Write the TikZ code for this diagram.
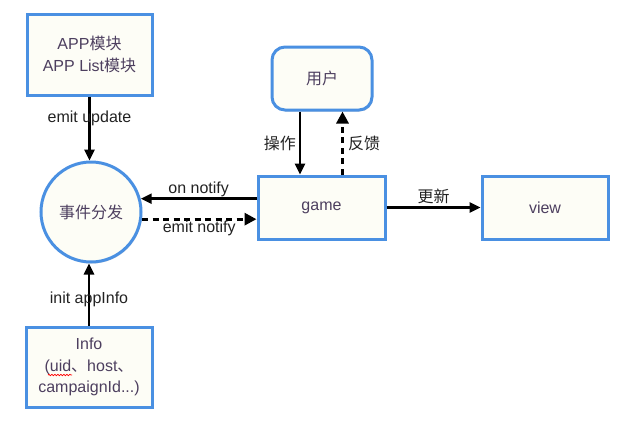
\documentclass[tikz,border=0pt]{standalone}
\usepackage{fontspec}
\setmainfont{Liberation Sans}
\newfontfamily\cjk{Noto Sans CJK SC}
\usepackage{tikz}
\usetikzlibrary{positioning,calc,arrows.meta,shadows,decorations.pathmorphing}
\definecolor{boxfill}{HTML}{FDFDF6}
\definecolor{boxline}{HTML}{4A90E2}
\definecolor{boxtext}{HTML}{4D3F5F}
\definecolor{lbltext}{HTML}{222222}

\begin{document}
\begin{tikzpicture}[
    x=1pt, y=-1pt,
    blk/.style={rectangle, fill=boxfill, draw=boxline, line width=3pt, text=boxtext,
        align=center, font=\fontsize{16}{21.5}\selectfont,
        drop shadow={shadow xshift=1pt, shadow yshift=-1.5pt, opacity=0.3}},
    userbox/.style={blk, rounded corners=13pt},
    hubnode/.style={blk, circle, minimum size=100pt, inner sep=0pt},
    arr/.style={-{Triangle[length=11pt, width=10pt]}, line width=2.5pt, black},
    dasharr/.style={arr, dashed, line width=3pt, dash pattern=on 6pt off 4.5pt, -{Triangle[length=12pt, width=12pt]}},
    lbl/.style={font=\fontsize{16}{19}\selectfont, text=lbltext, inner sep=2pt},
]
\useasboundingbox (0,0) rectangle (631,431);

\node[blk, minimum width=125pt, minimum height=81pt] (app) at (89.5,54.5)
    {APP{\cjk 模块}\\APP List{\cjk 模块}};
\node[hubnode] (hub) at (91,212) {\cjk 事件分发};
\node[blk, minimum width=126pt, minimum height=80pt] (info) at (89,367)
    {Info\\(uid{\cjk 、}host{\cjk 、}\\campaignId...)};
\node[userbox, minimum width=100pt, minimum height=63pt] (user) at (322,78.5) {\cjk 用户};
\node[blk, minimum width=127pt, minimum height=63pt] (game) at (321.5,207.5) {game};
\node[blk, minimum width=126pt, minimum height=63pt] (view) at (545,207.5) {view};

\draw[arr] (app.south) -- (app.south |- hub.north)
    node[lbl, pos=0.34] (lblupdate) {emit update};
\draw[arr] (info.north) -- (info.north |- hub.south)
    node[lbl, pos=0.42] (lblinit) {init appInfo};
\draw[arr] (game.west |- hub.15) -- (hub.15)
    node[lbl, midway, above=-1pt] (lblon) {on notify};
\draw[dasharr] (hub.-8) -- (hub.-8 -| game.west)
    node[lbl, midway, below=-1.5pt] (lblemit) {emit notify};
\draw[arr] ([xshift=-22pt]user.south) -- ([xshift=-22pt]user.south |- game.north)
    node[lbl, midway, left=1pt] (lblop) {\cjk 操作};
\draw[dasharr] ([xshift=21pt]game.north) -- ([xshift=21pt]game.north |- user.south)
    node[lbl, midway, right=2pt] (lblfb) {\cjk 反馈};
\draw[arr] (game.east) -- (view.west)
    node[lbl, midway, above=0pt] (lblupd) {\cjk 更新};

\draw[red, line width=0.7pt, decorate, decoration={snake, amplitude=0.7pt, segment length=3pt}]
    (48,375) -- (72,375);
\end{tikzpicture}
\end{document}
